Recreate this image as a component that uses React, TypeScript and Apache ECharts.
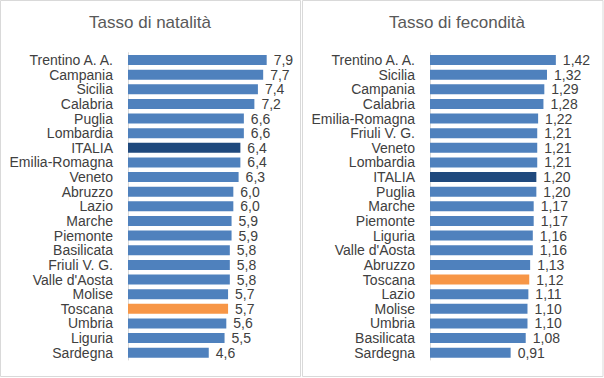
import React, { useEffect, useRef } from "react";
import * as echarts from "echarts";

const natCategories = [
  "Trentino A. A.", "Campania", "Sicilia", "Calabria", "Puglia", "Lombardia", "ITALIA",
  "Emilia-Romagna", "Veneto", "Abruzzo", "Lazio", "Marche", "Piemonte", "Basilicata",
  "Friuli V. G.", "Valle d'Aosta", "Molise", "Toscana", "Umbria", "Liguria", "Sardegna",
];
const natValues = [7.9, 7.7, 7.4, 7.2, 6.6, 6.6, 6.4, 6.4, 6.3, 6.0, 6.0, 5.9, 5.9, 5.8, 5.8, 5.8, 5.7, 5.7, 5.6, 5.5, 4.6];

const fecCategories = [
  "Trentino A. A.", "Sicilia", "Campania", "Calabria", "Emilia-Romagna", "Friuli V. G.", "Veneto",
  "Lombardia", "ITALIA", "Puglia", "Marche", "Piemonte", "Liguria", "Valle d'Aosta", "Abruzzo",
  "Toscana", "Lazio", "Molise", "Umbria", "Basilicata", "Sardegna",
];
const fecValues = [1.42, 1.32, 1.29, 1.28, 1.22, 1.21, 1.21, 1.21, 1.20, 1.20, 1.17, 1.17, 1.16, 1.16, 1.13, 1.12, 1.11, 1.10, 1.10, 1.08, 0.91];

const titles = ["Tasso di natalità", "Tasso di fecondità"];

const BLUE = "#4f81bd";
const NAVY = "#1f497d";
const ORANGE = "#f79646";
const FONT = "Liberation Sans";

function colorFor(name: string) {
  if (name === "ITALIA") return NAVY;
  if (name === "Toscana") return ORANGE;
  return BLUE;
}

export default function App() {
  const ref = useRef<HTMLDivElement>(null);
  useEffect(() => {
    if (!ref.current) return;
    const chart = echarts.init(ref.current, undefined, { renderer: "svg" });
    const mkData = (cats: string[], vals: number[]) =>
      vals.map((v, i) => ({ value: v, itemStyle: { color: colorFor(cats[i]) } }));
    const yAxisBase = {
      type: "category" as const,
      inverse: true,
      axisLine: { show: true, lineStyle: { color: "#d9d9d9", width: 1 } },
      axisTick: { show: false },
      axisLabel: { color: "#404040", fontSize: 14, fontFamily: FONT, margin: 15, interval: 0 },
    };
    const labelBase = {
      show: true,
      position: "right" as const,
      distance: 7,
      color: "#404040",
      fontSize: 14,
      fontFamily: FONT,
    };
    chart.setOption({
      animation: false,
      title: [
        { text: titles[0], left: 145, top: 9, textAlign: "center", textStyle: { color: "#595959", fontSize: 17, fontWeight: "normal", fontFamily: FONT } },
        { text: titles[1], left: 452, top: 9, textAlign: "center", textStyle: { color: "#595959", fontSize: 17, fontWeight: "normal", fontFamily: FONT } },
      ],
      graphic: [
        { type: "rect", shape: { x: 0.5, y: 0.5, width: 300, height: 376 }, style: { fill: "none", stroke: "#d9d9d9", lineWidth: 1 }, silent: true },
        { type: "rect", shape: { x: 302.5, y: 0.5, width: 300.5, height: 376 }, style: { fill: "none", stroke: "#d9d9d9", lineWidth: 1 }, silent: true },
      ],
      grid: [
        { left: 128, top: 52.7, width: 158, height: 307.3 },
        { left: 430, top: 52.7, width: 141.8, height: 307.3 },
      ],
      xAxis: [
        { type: "value", gridIndex: 0, min: 0, max: 9, show: false },
        { type: "value", gridIndex: 1, min: 0, max: 1.6, show: false },
      ],
      yAxis: [
        { ...yAxisBase, gridIndex: 0, data: natCategories },
        { ...yAxisBase, gridIndex: 1, data: fecCategories },
      ],
      series: [
        {
          type: "bar", xAxisIndex: 0, yAxisIndex: 0, barWidth: 10,
          data: mkData(natCategories, natValues),
          label: { ...labelBase, formatter: (p: any) => p.value.toFixed(1).replace(".", ",") },
        },
        {
          type: "bar", xAxisIndex: 1, yAxisIndex: 1, barWidth: 10,
          data: mkData(fecCategories, fecValues),
          label: { ...labelBase, formatter: (p: any) => p.value.toFixed(2).replace(".", ",") },
        },
      ],
    });
    return () => chart.dispose();
  }, []);
  return (
    <div style={{ position: "absolute", left: 0, top: 0, width: 604, height: 378, background: "#fff" }}>
      <div ref={ref} style={{ width: 604, height: 378 }} />
    </div>
  );
}
